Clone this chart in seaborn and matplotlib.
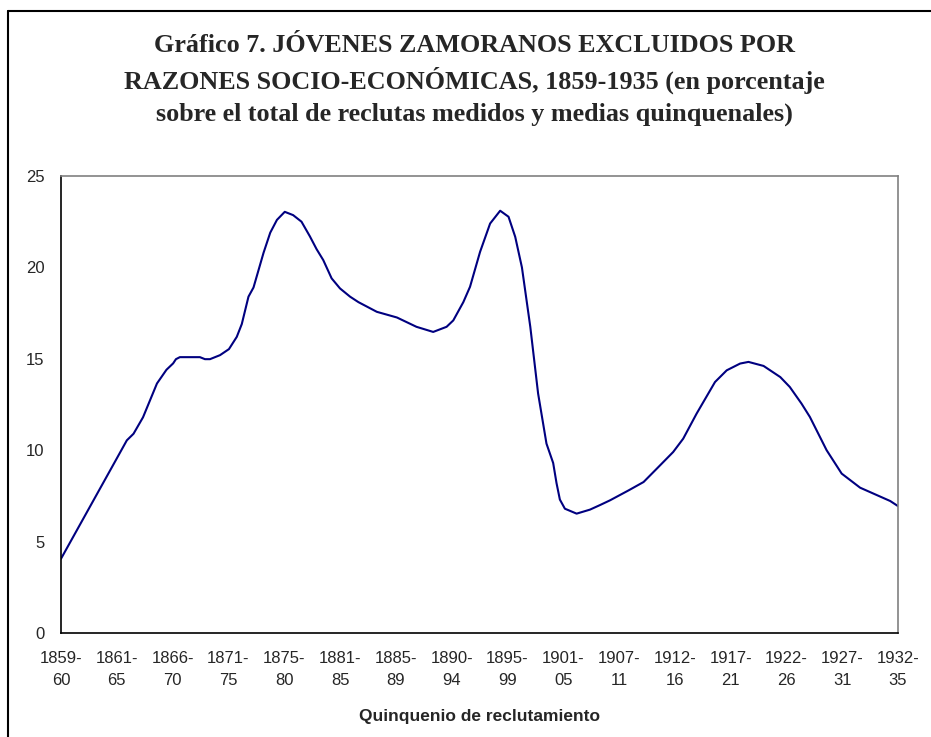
import pandas as pd
import matplotlib
matplotlib.use("Agg")
import matplotlib.pyplot as plt
import seaborn as sns

# Etiquetas del eje X (quinquenios)
quinquenios = ['1859-\n60', '1861-\n65', '1866-\n70', '1871-\n75', '1875-\n80',
               '1881-\n85', '1885-\n89', '1890-\n94', '1895-\n99', '1901-\n05',
               '1907-\n11', '1912-\n16', '1917-\n21', '1922-\n26', '1927-\n31',
               '1932-\n35']

# Posición a lo largo del eje (en unidades de quinquenio) y porcentaje
posicion = [0.00, 1.00, 1.18, 1.30, 1.47, 1.72, 1.89, 2.01, 2.06, 2.13,
            2.49, 2.58, 2.67, 2.85, 3.01, 3.15, 3.24, 3.36, 3.45, 3.63,
            3.75, 3.87, 4.01, 4.16, 4.31, 4.46, 4.58, 4.70, 4.85, 5.00,
            5.18, 5.33, 5.66, 6.02, 6.37, 6.67, 6.91, 7.03, 7.21, 7.33,
            7.51, 7.69, 7.87, 8.02, 8.14, 8.26, 8.41, 8.55, 8.70, 8.82,
            8.88, 8.94, 9.03, 9.24, 9.48, 9.66, 9.84, 10.17, 10.44, 10.68,
            10.97, 11.15, 11.39, 11.72, 11.93, 12.17, 12.32, 12.59, 12.89, 13.06,
            13.27, 13.42, 13.72, 13.99, 14.32, 14.86, 15.00]
porcentaje = [4.06, 9.55, 10.54, 10.90, 11.80, 13.65, 14.40, 14.75, 14.98, 15.09,
              15.09, 14.98, 14.98, 15.20, 15.53, 16.20, 16.90, 18.40, 18.90, 20.80,
              21.90, 22.60, 23.04, 22.86, 22.50, 21.70, 21.00, 20.40, 19.40, 18.85,
              18.40, 18.10, 17.57, 17.26, 16.75, 16.47, 16.75, 17.10, 18.10, 18.94,
              20.85, 22.40, 23.10, 22.77, 21.67, 20.00, 16.75, 13.10, 10.36, 9.30,
              8.20, 7.30, 6.80, 6.53, 6.75, 7.00, 7.26, 7.80, 8.26, 9.00,
              9.90, 10.63, 12.00, 13.73, 14.37, 14.74, 14.83, 14.61, 14.00, 13.46,
              12.55, 11.82, 10.00, 8.72, 7.95, 7.22, 6.94]

df = pd.DataFrame({'pos': posicion, 'pct': porcentaje})

sns.set_theme(style="white")
plt.rcParams['font.family'] = ['Liberation Sans', 'DejaVu Sans']

fig = plt.figure(figsize=(9.31, 7.37), dpi=100)
ax = fig.add_axes([0.0655, 0.1411, 0.8991, 0.6201])

sns.lineplot(data=df, x='pos', y='pct', ax=ax, color='#000080',
             linewidth=1.5, estimator=None, sort=False)

ax.set_xlim(0, len(quinquenios) - 1)
ax.set_ylim(0, 25)
ax.set_xticks(range(len(quinquenios)))
ax.set_xticklabels(quinquenios, fontsize=12, linespacing=1.6)
ax.set_yticks([0, 5, 10, 15, 20, 25])
ax.set_yticklabels(['0', '5', '10', '15', '20', '25'], fontsize=12)
ax.tick_params(axis='x', direction='inout', length=10, width=1, color='black', pad=8)
ax.tick_params(axis='y', direction='out', length=5, width=1, color='black', pad=7)
ax.set_xlabel('Quinquenio de reclutamiento', fontsize=12.5, fontweight='bold', labelpad=15)
ax.set_ylabel('')

for s in ['left', 'bottom']:
    ax.spines[s].set_color('black')
    ax.spines[s].set_linewidth(1.2)
for s in ['top', 'right']:
    ax.spines[s].set_color('#808080')
    ax.spines[s].set_linewidth(1.2)

# Título
titulo = ['Gráfico 7. JÓVENES ZAMORANOS EXCLUIDOS POR',
          'RAZONES SOCIO-ECONÓMICAS, 1859-1935 (en porcentaje',
          'sobre el total de reclutas medidos y medias quinquenales)']
for i, linea in enumerate(titulo):
    fig.text(0.510, 1 - (46 + 34 * i) / 737, linea, ha='center', va='center',
             fontsize=18.8, fontweight='bold', family=['Liberation Serif', 'DejaVu Serif'])

# Marco del gráfico (solo visible arriba y a la izquierda)
fig.add_artist(plt.Line2D([7.5 / 931, 7.5 / 931], [0, 1 - 11 / 737],
                          transform=fig.transFigure, color='black', linewidth=1.5))
fig.add_artist(plt.Line2D([7.5 / 931, 1], [1 - 11 / 737, 1 - 11 / 737],
                          transform=fig.transFigure, color='black', linewidth=1.5))

fig.savefig('out.png', dpi=100, facecolor='white')
